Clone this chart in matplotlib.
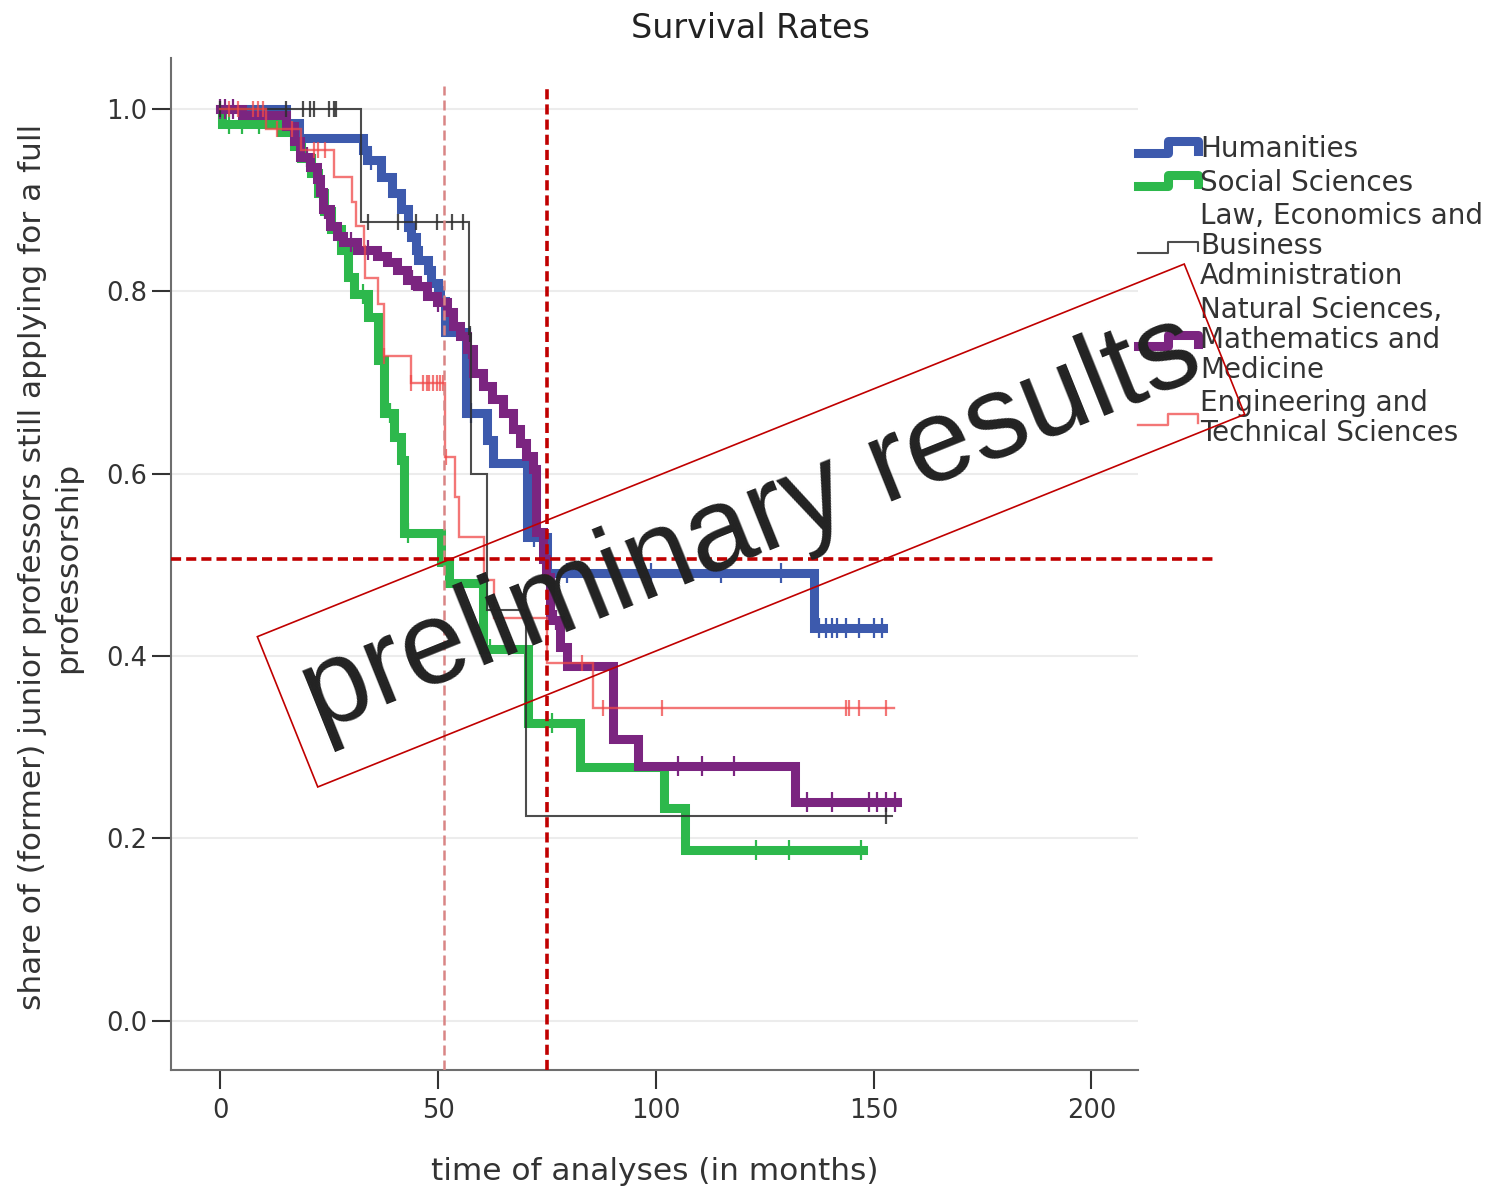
import numpy as np
import matplotlib
matplotlib.use("Agg")
import matplotlib.pyplot as plt
from matplotlib.lines import Line2D
from matplotlib.patches import Rectangle
from matplotlib.legend_handler import HandlerBase

# Kaplan-Meier style step curves (months, share)
hum_t = [0, 15, 18, 32.7, 33.8, 36.9, 39.5, 41.4, 43.0, 43.7, 44.9, 45.3, 47.6, 48.3, 49.9,
         50.5, 51.5, 56.5, 61.2, 62.6, 70.5, 75.1, 136.2, 152.2]
hum_s = [1.0, 0.985, 0.968, 0.955, 0.944, 0.926, 0.908, 0.89, 0.871, 0.86, 0.846, 0.835, 0.824,
         0.809, 0.802, 0.79, 0.755, 0.667, 0.637, 0.612, 0.531, 0.491, 0.431, 0.431]
hum_cens = [34.5, 57.5, 72, 79.7, 99, 115, 128.8, 137.5, 139, 140.4, 141.6, 143.6, 146.6, 150, 152]

soc_t = [0, 0.5, 14, 17, 18.6, 20.8, 22.4, 23.8, 25.4, 27.7, 29.3, 30.7, 33.9, 36.2, 37.5, 39.8,
         41.4, 42.1, 50.6, 52.5, 60.3, 70.6, 82.7, 101.8, 106.8, 147.6]
soc_s = [1.0, 0.984, 0.975, 0.96, 0.946, 0.93, 0.908, 0.888, 0.868, 0.846, 0.816, 0.797, 0.772,
         0.725, 0.667, 0.640, 0.615, 0.535, 0.503, 0.48, 0.408, 0.327, 0.278, 0.233, 0.187, 0.187]
soc_cens = [2, 5, 9, 29, 32.8, 39, 43, 62, 76.2, 123, 130.6, 147]

law_t = [0, 32.3, 57.0, 57.6, 61.3, 70.3, 154.3]
law_s = [1.0, 0.876, 0.753, 0.60, 0.451, 0.225, 0.225]
law_cens = [0, 15, 19, 20.5, 21.5, 25, 26, 26.5, 33.9, 40.8, 44.9, 49.7, 53.2, 55.7, 57.3, 152.8]

nat_t = [0, 5, 15, 17, 18.3, 20.6, 22.2, 22.9, 23.6, 25.2, 26.8, 28.2, 31.4, 36, 38.3, 40.5,
         42.8, 45.1, 47.4, 49.7, 52, 53.4, 55, 56.6, 58, 60.3, 62.5, 64.8, 67.1, 68.7, 70.3,
         71.7, 72.6, 74, 74.8, 75.7, 78, 79.6, 90.2, 96, 132, 155.3]
nat_s = [1.0, 0.993, 0.982, 0.965, 0.948, 0.937, 0.923, 0.909, 0.890, 0.872, 0.861, 0.854,
         0.846, 0.839, 0.832, 0.824, 0.813, 0.806, 0.795, 0.788, 0.777, 0.762, 0.751, 0.737,
         0.711, 0.696, 0.682, 0.667, 0.649, 0.634, 0.619, 0.605, 0.536, 0.506, 0.487, 0.44,
         0.41, 0.389, 0.309, 0.279, 0.240, 0.240]
nat_cens = [0, 1, 3, 20, 24, 30, 34, 44, 50, 57, 77, 105, 110.7, 118, 134.7, 140.4, 148.9,
            150.7, 152.8, 155]

eng_t = [0, 10.5, 18.5, 26, 30.3, 31.1, 32.9, 33.3, 36.3, 37.5, 43.7, 51.6, 54, 54.8, 60.5,
         62.8, 75.1, 85.6, 154.6]
eng_s = [1.0, 0.978, 0.955, 0.925, 0.898, 0.872, 0.85, 0.815, 0.786, 0.729, 0.70, 0.618, 0.574,
         0.531, 0.484, 0.442, 0.393, 0.343, 0.343]
eng_cens = [2, 4, 7.6, 8.7, 9.9, 13, 16.5, 21.5, 22.5, 24, 37.6, 43.7, 46.5, 47.4, 48, 48.8,
            49.7, 50.4, 51.1, 51.9, 83, 87.8, 101.5, 143.6, 144.3, 146.6, 152.8]

groups = ["Humanities", "Social Sciences", "Law, Economics and\nBusiness\nAdministration",
          "Natural Sciences,\nMathematics and\nMedicine", "Engineering and\nTechnical Sciences"]
colors = ["#3d5aad", "#2db84c", "#2e2e2e", "#7b2580", "#ef4848"]

# reference lines (median survival marks)
ref_x_pink = 51.4
ref_x_red = 74.9
ref_y = 0.506


def step_at(t, s, x):
    idx = np.searchsorted(t, x, side="right") - 1
    return np.asarray(s)[idx]


class StepHandler(HandlerBase):
    # little step icon as used in the SPSS legend
    def create_artists(self, legend, orig_handle, xdescent, ydescent, width, height, fontsize, trans):
        x0 = -xdescent
        ym = height / 2 - ydescent
        lo, hi = ym - 0.28 * height, ym + 0.3 * height
        xs = [x0, x0 + 0.5 * width, x0 + 0.5 * width, x0 + width, x0 + width]
        ys = [lo, lo, hi, hi, lo + 0.1 * height]
        line = Line2D(xs, ys, color=orig_handle.get_color(), lw=orig_handle.get_linewidth(),
                      alpha=orig_handle.get_alpha(), solid_joinstyle="round")
        line.set_transform(trans)
        return [line]


fig = plt.figure(figsize=(14.99, 11.92), dpi=100)
ax = fig.add_axes([0.1141, 0.1023, 0.6451, 0.849])

series = [
    (hum_t, hum_s, hum_cens, colors[0], 6.5, 1.0, 3, 14),
    (soc_t, soc_s, soc_cens, colors[1], 6.5, 1.0, 2, 14),
    (nat_t, nat_s, nat_cens, colors[3], 6.5, 1.0, 4, 14),
    (law_t, law_s, law_cens, colors[2], 1.5, 0.85, 5, 12),
    (eng_t, eng_s, eng_cens, colors[4], 1.7, 0.75, 6, 11),
]
for t, s, cens, col, lw, alpha, z, ms in series:
    ax.step(t, s, where="post", color=col, lw=lw, alpha=alpha, zorder=z, solid_joinstyle="miter")
    ax.plot(cens, step_at(t, s, cens), ls="none", marker="|", ms=ms, mew=1.6,
            color=col, alpha=alpha, zorder=z)

ax.set_xlim(-11.3, 210.7)
ax.set_ylim(-0.054, 1.056)

y0, y1 = ax.get_ylim()
x0, x1 = ax.get_xlim()
ax.axvline(ref_x_pink, ymin=0, ymax=(1.025 - y0) / (y1 - y0), color="#d98585", lw=1.8,
           dashes=(4, 2), zorder=7)
ax.axvline(ref_x_red, ymin=0, ymax=(1.025 - y0) / (y1 - y0), color="#c00000", lw=2.6,
           dashes=(2.8, 1.4), zorder=7)
ax.axhline(ref_y, xmin=0, xmax=(228.4 - x0) / (x1 - x0), color="#c00000", lw=2.6,
           dashes=(2.8, 1.4), zorder=7, clip_on=False)

ax.set_xticks([0, 50, 100, 150, 200])
ax.set_yticks([0.0, 0.2, 0.4, 0.6, 0.8, 1.0])
ax.set_yticklabels(["0.0", "0.2", "0.4", "0.6", "0.8", "1.0"])
ax.tick_params(direction="out", length=14, width=1.5, color="#333333", labelsize=18.5,
               labelcolor="#333333")
ax.tick_params(axis="y", pad=3)
ax.tick_params(axis="x", pad=6)
ax.yaxis.grid(True, color="#ececec", lw=1.5)
ax.set_axisbelow(True)
for side in ["top", "right"]:
    ax.spines[side].set_visible(False)
for side in ["left", "bottom"]:
    ax.spines[side].set_color("#6e6e6e")
    ax.spines[side].set_linewidth(1.5)

ax.set_xlabel("time of analyses (in months)", fontsize=22.5, color="#333333")
ax.xaxis.set_label_coords(0.5, -0.1005)
ax.xaxis.label.set_va("center")
ax.set_ylabel("share of (former) junior professors still applying for a full\nprofessorship",
              fontsize=22.5, color="#333333", linespacing=1.25)
ax.yaxis.set_label_coords(-0.1251, 0.497)
ax.yaxis.label.set_va("center")

fig.text(750 / 1499, 1 - 28 / 1192, "Survival Rates", ha="center", va="center", fontsize=24,
         color="#222222")

handles = [Line2D([], [], color=colors[0], lw=6.5),
           Line2D([], [], color=colors[1], lw=6.5),
           Line2D([], [], color=colors[2], lw=1.5, alpha=0.85),
           Line2D([], [], color=colors[3], lw=6.5),
           Line2D([], [], color=colors[4], lw=1.7, alpha=0.75)]
leg = ax.legend(handles, groups, handler_map={Line2D: StepHandler()}, loc="upper left",
                bbox_to_anchor=(1138 / 1499, 1 - 135 / 1192), bbox_transform=fig.transFigure,
                frameon=False, fontsize=20, handlelength=2.15, handletextpad=0.08,
                labelspacing=0.2, borderpad=0, borderaxespad=0)
for txt in leg.get_texts():
    txt.set_color("#333333")
    txt.set_linespacing(1.09)

# "preliminary results" stamp
cx, cy = 7.51, (1192 - 525.5) / 100
bw, bh = 9.99, 1.62
fig.add_artist(Rectangle((cx - bw / 2, cy - bh / 2), bw, bh, angle=21.9, rotation_point="center",
                         transform=fig.dpi_scale_trans, fill=False, ec="#c00000", lw=1.2,
                         zorder=20))
fig.text(cx / 14.99, cy / 11.92, "preliminary results", rotation=21.9, rotation_mode="anchor",
         ha="center", va="center", fontsize=85, color="#222222", family="Liberation Sans",
         zorder=21)

fig.savefig("out.png", dpi=100)
